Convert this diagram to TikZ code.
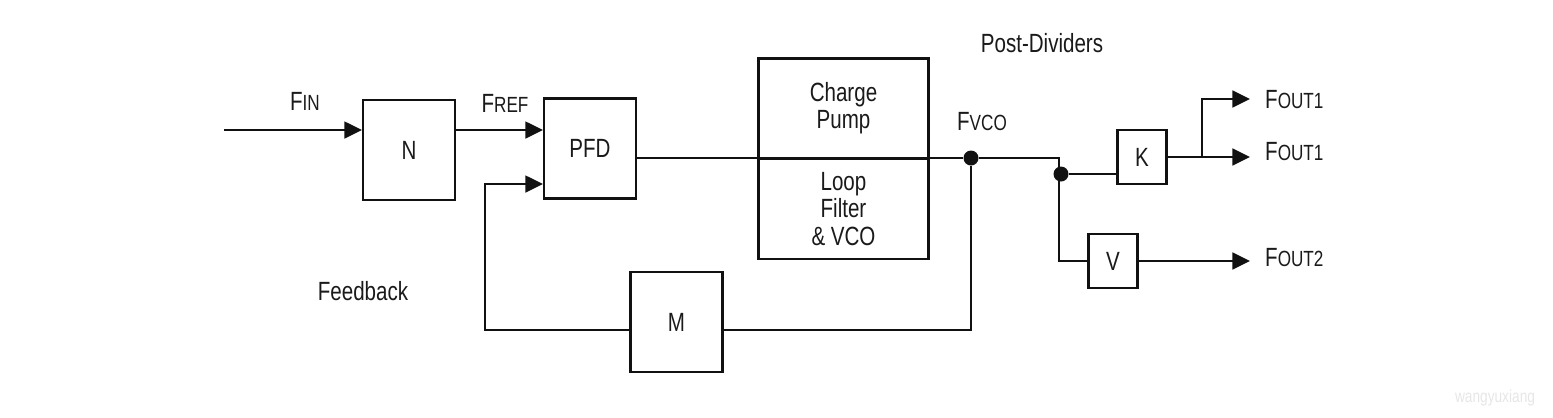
\documentclass[tikz,border=0pt]{standalone}
\usepackage{fontspec}
\setmainfont{Liberation Sans}[FakeStretch=0.78]
\usetikzlibrary{arrows.meta}
\definecolor{linecolor}{HTML}{111111}
\definecolor{textcolor}{HTML}{1A1A1A}
\definecolor{markcolor}{HTML}{E6E6E6}
\newcommand{\fsig}[1]{F\fontsize{12.5}{14}\selectfont #1}
\tikzset{
  block/.style={
    draw=linecolor,
    line width=1.2pt,
    inner sep=0pt,
    align=center,
    font=\fontsize{15}{15.5}\selectfont,
    text=textcolor
  },
  bigblock/.style={block, minimum width=92\pxu, minimum height=100\pxu},
  smallblock/.style={block, minimum width=49\pxu, minimum height=54\pxu},
  stage/.style={block, minimum width=170\pxu, minimum height=100\pxu},
  dot/.style={circle, fill=linecolor, inner sep=0pt, minimum size=15\pxu},
  sig/.style={draw=linecolor, line width=1.4pt},
  arrow/.style={sig, -{Triangle[length=10pt,width=9.5pt]}},
  label/.style={font=\fontsize{15}{15.5}\selectfont, text=textcolor}
}
\newcommand{\pxu}{*0.02cm}

\begin{document}
\begin{tikzpicture}[x=0.02cm,y=-0.02cm]
  \useasboundingbox (0,0) rectangle (1553,417);

  % Loop blocks.
  \node[bigblock] (nbox) at (409,150) {N};
  \node[bigblock] (pfd) at (590,148.5) {PFD};
  \node[stage] (pump) at (843.5,108.5) {Charge\\Pump};
  \node[stage] (filter) at (843.5,209) {Loop\\Filter\\\& VCO};
  \node[bigblock] (mbox) at (676.5,322) {M};

  % Post-dividers.
  \node[smallblock] (kbox) at (1142,157) {K};
  \node[smallblock] (vbox) at (1113,261) {V};

  % Junctions and turning points.
  \node[dot] (fvco) at (971,158) {};
  \node[dot] (split) at (1061,174) {};
  \coordinate (fin) at (224,130);
  \coordinate (turn) at (1059,158);
  \coordinate (fbdown) at (971,330);
  \coordinate (fbcorner) at (485,184);
  \coordinate (branch) at (1202,157);
  \coordinate (out1a) at (1250,99);
  \coordinate (out1b) at (1250,157);
  \coordinate (out2) at (1250,261);

  % Forward path.
  \draw[arrow] (fin) -- (fin -| nbox.west);
  \draw[arrow] (nbox.east |- fin) -- (pfd.west |- fin);
  \draw[sig] (pfd.east |- fvco) -- (fvco);
  \draw[sig] (fvco) -- (turn) |- (vbox.west);
  \draw[sig] (split) -- (split -| kbox.west);
  \draw[arrow] (kbox.east) -- (out1b);
  \draw[arrow] (branch) |- (out1a);
  \draw[arrow] (vbox.east) -- (out2);

  % Feedback path.
  \draw[sig] (fvco) -- (fbdown) -- (fbdown -| mbox.east);
  \draw[arrow] (fbdown -| mbox.west) -| (fbcorner) -- (fbcorner -| pfd.west);

  % Labels.
  \node[label] (finlabel) at (305,101) {\fsig{IN}};
  \node[label] (freflabel) at (505,103) {\fsig{REF}};
  \node[label] (fvcolabel) at (982,122) {\fsig{VCO}};
  \node[label] (postlabel) at (1042,43) {Post-Dividers};
  \node[label] (fblabel) at (363,291) {Feedback};
  \node[label, anchor=west] (out1alabel) at (1259,100) {\fsig{OUT1}};
  \node[label, anchor=west] (out1blabel) at (1259,152) {\fsig{OUT1}};
  \node[label, anchor=west] (out2label) at (1259,258) {\fsig{OUT2}};
  \node[font=\fontsize{10}{11}\selectfont, text=markcolor] (mark) at (1495,398) {wangyuxiang};

\end{tikzpicture}
\end{document}
